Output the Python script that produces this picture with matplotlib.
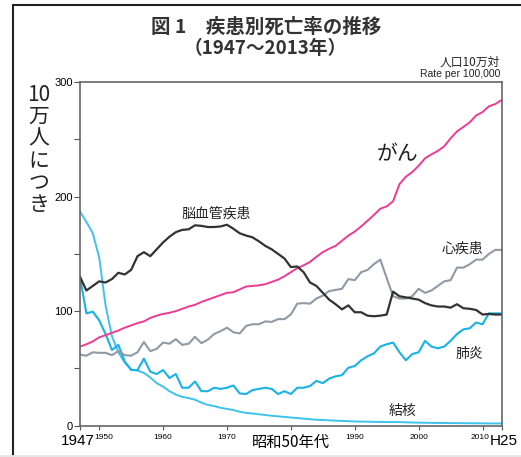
import matplotlib
matplotlib.use("Agg")
import matplotlib.pyplot as plt
from matplotlib import font_manager
from matplotlib.patches import Rectangle
from matplotlib.lines import Line2D
from matplotlib.transforms import ScaledTranslation

plt.rcParams['font.family'] = ['Noto Sans CJK JP', 'DejaVu Sans']

# narrow face for the numbers if there is one
installed = {f.name for f in font_manager.fontManager.ttflist}
if 'Liberation Sans Narrow' in installed:
    NUM_FONT = ['Liberation Sans Narrow']
    narrow = True
else:
    NUM_FONT = ['Liberation Sans', 'DejaVu Sans']
    narrow = False

years = list(range(1947, 2014))

# values per 100,000
cancer = [69, 71, 73.5, 77, 79, 81, 83, 85.5, 87.5, 89.5,
          91, 94, 96, 97.5, 98.5, 100, 102, 104, 105.5, 108,
          110, 112, 114, 116, 116.5, 119, 121.5, 122, 122.5, 123.5,
          125.5, 127.5, 130.5, 134, 137.5, 140, 143, 147.5, 151.5, 154.5,
          157, 161.5, 166, 169.5, 174, 179, 184, 189.5, 191.5, 196,
          211, 217.5, 221.5, 227, 233.5, 237, 240, 244, 251, 257,
          261, 265, 271, 274, 279, 281, 284.5]
stroke = [130, 118, 122, 126, 125, 128, 133.5, 132, 136, 148,
          151.5, 148, 154, 160, 165, 169, 171, 171.5, 175, 174.5,
          173.5, 173.5, 174, 175.5, 172, 168, 166, 164.5, 161, 157,
          154, 150, 146, 138.5, 139, 134, 125, 122, 116, 110,
          106, 101.5, 105, 99, 99, 96, 95.5, 96, 97, 117,
          113, 112, 111, 110, 107, 105, 104, 104, 103, 106,
          102.5, 102, 101, 97, 97.5, 97, 97]
heart = [62, 61, 64, 63.5, 63.5, 61.5, 65, 61.5, 61, 64,
         73, 65, 67, 72.5, 71.5, 75.5, 70.5, 71.5, 77.5, 72,
         75, 80, 82.5, 85.5, 81.5, 80.5, 87, 88.5, 88.5, 91,
         90.5, 93, 93, 97, 106.5, 107, 106.5, 111, 113.5, 117.5,
         118.5, 119.5, 128, 127, 134, 136, 141, 145, 129, 113,
         111, 111, 113, 119.5, 116, 118, 122, 126, 127, 138,
         138, 141, 145, 145, 150, 153.5, 153.5]
pneumonia = [130, 98, 99.5, 92, 80, 66, 70.5, 56, 48.5, 48.5,
             58.5, 47, 45, 48.5, 41.5, 45, 33, 33, 38.5, 30,
             30, 33, 32, 33, 35, 28, 27.5, 31, 32, 33,
             32, 27.5, 30, 27.5, 33, 33, 34.5, 39, 37, 41,
             43, 44, 50.5, 52, 57, 60.5, 63, 69, 71, 72.5,
             64, 57, 62.5, 64, 74, 69, 67.5, 69, 74, 80,
             84, 85, 90, 88.5, 98, 98, 98]
tb = [187, 178, 168, 147, 105, 78, 64, 55, 49, 48,
      46, 42, 37, 34, 30, 27, 25, 24, 22.5, 20,
      18, 17, 15.5, 14.5, 13.5, 12, 11, 10.5, 9.8, 9.2,
      8.5, 8, 7.5, 7, 6.5, 6, 5.5, 5, 4.8, 4.5,
      4.2, 4, 3.8, 3.5, 3.4, 3.3, 3.2, 3.1, 3, 3,
      3, 2.8, 2.6, 2.5, 2.4, 2.3, 2.2, 2.2, 2.1, 2.1,
      2, 2, 1.9, 1.9, 1.8, 1.8, 1.8]

x_ticks = [1947, 1950, 1960, 1970, 1980, 1990, 2000, 2010, 2013]
x_labels = ['1947', '1950', '1960', '1970', '昭和50年代', '1990', '2000', '2010', 'H25']

fig = plt.figure(figsize=(5.21, 4.57), dpi=100)
ax = fig.add_axes([80 / 521, 31.5 / 457, 421.7 / 521, 343.2 / 457])

ax.plot(years, tb, color='#3ec3ee', lw=1.4)
ax.plot(years, pneumonia, color='#19b2e6', lw=1.5)
ax.plot(years, heart, color='#8e9aa6', lw=1.5)
ax.plot(years, cancer, color='#ee3a92', lw=1.4)
ax.plot(years, stroke, color='#333333', lw=1.6)

ax.set_xlim(1947, 2013)
ax.set_ylim(0, 300)

ax.set_yticks([0, 100, 200, 300])
ax.set_yticklabels(['0', '100', '200', '300'], fontsize=8.5 if narrow else 8, family=NUM_FONT)
ax.set_yticks([50, 150, 250], minor=True)
ax.tick_params(axis='y', which='both', direction='out', length=4, width=0.8,
               color='#555555', pad=1)

ax.set_xticks(x_ticks)
ax.set_xticklabels(x_labels)
ax.tick_params(axis='x', direction='out', length=3, width=0.8, color='#555555', pad=3)

big = 12 if narrow else 11
small = 6.5 if narrow else 6
shift = {'1947': -2, '1950': 5, '2010': -3, 'H25': 2}
for lab in ax.get_xticklabels():
    t = lab.get_text()
    if t in ('1947', 'H25'):
        lab.set_fontsize(big)
        lab.set_family(NUM_FONT)
    elif t == '昭和50年代':
        lab.set_fontsize(11)
    else:
        lab.set_fontsize(small)
        lab.set_family(NUM_FONT)
    if t in shift:
        dx = shift[t] / 100
        lab.set_transform(lab.get_transform() + ScaledTranslation(dx, 0, fig.dpi_scale_trans))

for sp in ax.spines.values():
    sp.set_color('#666666')
    sp.set_linewidth(1.2)

# series labels
ax.text(1968.4, 185.5, '脳血管疾患', fontsize=10, ha='center', va='center', color='#222222')
ax.text(1996.7, 237, 'がん', fontsize=15, ha='center', va='center', color='#222222')
ax.text(2006.9, 155, '心疾患', fontsize=10, ha='center', va='center', color='#222222')
ax.text(2008, 62.5, '肺炎', fontsize=10, ha='center', va='center', color='#222222')
ax.text(1997.5, 12.7, '結核', fontsize=10, ha='center', va='center', color='#222222')

# titles and notes
fig.text(266 / 521, 1 - 27 / 457, '図 1　疾患別死亡率の推移', fontsize=14,
         fontweight='bold', ha='center', va='center', color='#333333')
fig.text(265 / 521, 1 - 48 / 457, '（1947～2013年）', fontsize=13.5,
         fontweight='bold', ha='center', va='center', color='#333333')
fig.text(500 / 521, 1 - 62 / 457, '人口10万対', fontsize=8.5, ha='right', va='center',
         color='#222222')
fig.text(500 / 521, 1 - 74 / 457, 'Rate per 100,000', fontsize=7.5, ha='right',
         va='center', color='#222222', family=['Liberation Sans', 'DejaVu Sans'])
fig.text(39 / 521, 1 - 150 / 457, '10\n万\n人\nに\nつ\nき', fontsize=15,
         ha='center', va='center', linespacing=1.0, color='#222222')

# outer frame
fig.patches.append(Rectangle((13 / 521, -0.5), 2, 0.5 + 1 - 5 / 457,
                             transform=fig.transFigure, fill=False,
                             edgecolor='#222222', linewidth=1.5))
fig.lines.append(Line2D([0, 1], [1.5 / 457, 1.5 / 457], transform=fig.transFigure,
                        color='#e6e6e6', linewidth=2))

fig.savefig('out.png', dpi=100)
